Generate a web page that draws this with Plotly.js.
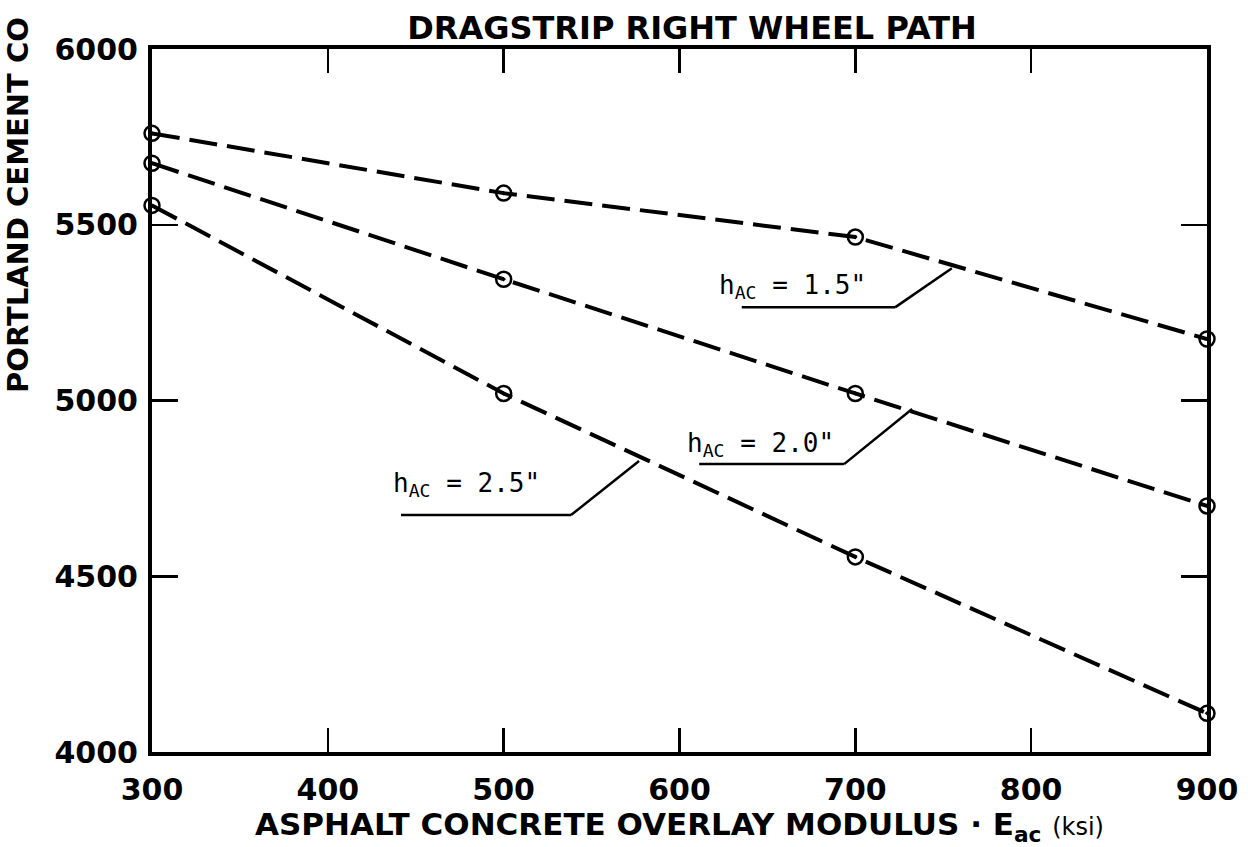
<!DOCTYPE html>
<html>
<head>
<meta charset="utf-8">
<script src="https://cdn.plot.ly/plotly-3.0.1.min.js"></script>
<style>html,body{margin:0;padding:0;background:#fff;}#chart{width:1248px;height:847px;}</style>
</head>
<body>
<div id="chart"></div>
<script>
// ---- data ----
const modulus = [300, 500, 700, 900];           // E_ac (ksi)
const h15 = [5760, 5590, 5465, 5175];           // h_AC = 1.5"
const h20 = [5675, 5345, 5020, 4700];           // h_AC = 2.0"
const h25 = [5555, 5020, 4555, 4110];           // h_AC = 2.5"
const xTicks = [300, 400, 500, 600, 700, 800, 900];
const yTicks = [4000, 4500, 5000, 5500, 6000];
const seriesLabels = ['h<sub>AC</sub> = 1.5"', 'h<sub>AC</sub> = 2.0"', 'h<sub>AC</sub> = 2.5"'];

const lineStyle = {color: '#000', width: 4, dash: '28px,10px'};
const markerStyle = {symbol: 'circle-open-dot', size: 15, color: '#000', line: {color: '#000', width: 2.5}};

const traces = [h15, h20, h25].map((ys, i) => ({
  x: modulus, y: ys, type: 'scatter', mode: 'lines+markers',
  name: seriesLabels[i], line: lineStyle, marker: markerStyle,
  cliponaxis: false, showlegend: false, hoverinfo: 'x+y'
}));

// label placements (annotation text + leader lines), in data units
const labelPos = [
  {tx: 664, ty: 5323, path: [[635.4, 5265], [722.6, 5265], [754.9, 5376]]},
  {tx: 646, ty: 4876, path: [[611.2, 4819], [693.6, 4819], [732.3, 4976]]},
  {tx: 479, ty: 4760, path: [[441.6, 4674], [538.3, 4674], [577.0, 4828]]}
];

const shapes = [];
labelPos.forEach(p => {
  for (let k = 0; k < p.path.length - 1; k++) {
    shapes.push({type: 'line', xref: 'x', yref: 'y',
      x0: p.path[k][0], y0: p.path[k][1], x1: p.path[k+1][0], y1: p.path[k+1][1],
      line: {color: '#000', width: 2.5}});
  }
});

const annotations = labelPos.map((p, i) => ({
  x: p.tx, y: p.ty, xref: 'x', yref: 'y', text: seriesLabels[i], showarrow: false,
  font: {family: 'DejaVu Sans Mono', size: 26, color: '#000'}, xanchor: 'center', yanchor: 'middle'
}));

annotations.push({
  text: 'PORTLAND CEMENT CO', xref: 'paper', yref: 'paper',
  x: -0.127, y: 0.5078, xanchor: 'center', yanchor: 'bottom', textangle: -90,
  showarrow: false, font: {family: 'DejaVu Sans', size: 29, color: '#000', weight: 'bold'}
});

const layout = {
  width: 1248, height: 847,
  margin: {l: 152, r: 41, t: 49, b: 95},
  paper_bgcolor: '#fff', plot_bgcolor: '#fff',
  title: {text: 'DRAGSTRIP RIGHT WHEEL PATH', x: 0.5545, xanchor: 'center', y: 0.967, yanchor: 'middle',
    font: {family: 'DejaVu Sans', size: 32, color: '#000', weight: 'bold'}},
  xaxis: {
    range: [300, 900], tickvals: xTicks, ticktext: xTicks.map(String),
    ticks: 'inside', ticklen: 24, tickwidth: 2.5, tickcolor: '#000',
    showline: true, linewidth: 4, linecolor: '#000', mirror: 'ticks',
    showgrid: false, zeroline: false,
    tickfont: {family: 'DejaVu Sans', size: 30, color: '#000', weight: 'bold'},
    ticklabelstandoff: 8,
    title: {text: 'ASPHALT CONCRETE OVERLAY MODULUS · E<sub>ac</sub> <span style="font-size:24px;font-weight:normal">(ksi)</span>',
      font: {family: 'DejaVu Sans', size: 31, color: '#000', weight: 'bold'}, standoff: 2}
  },
  yaxis: {
    range: [4000, 6000], tickvals: yTicks, ticktext: yTicks.map(String),
    ticks: 'inside', ticklen: 26, tickwidth: 2.5, tickcolor: '#000',
    showline: true, linewidth: 4, linecolor: '#000', mirror: 'ticks',
    showgrid: false, zeroline: false,
    tickfont: {family: 'DejaVu Sans', size: 30, color: '#000', weight: 'bold'},
    ticklabelstandoff: 4
  },
  shapes: shapes,
  annotations: annotations
};

Plotly.newPlot('chart', traces, layout, {displayModeBar: false, staticPlot: true});
</script>
</body>
</html>
